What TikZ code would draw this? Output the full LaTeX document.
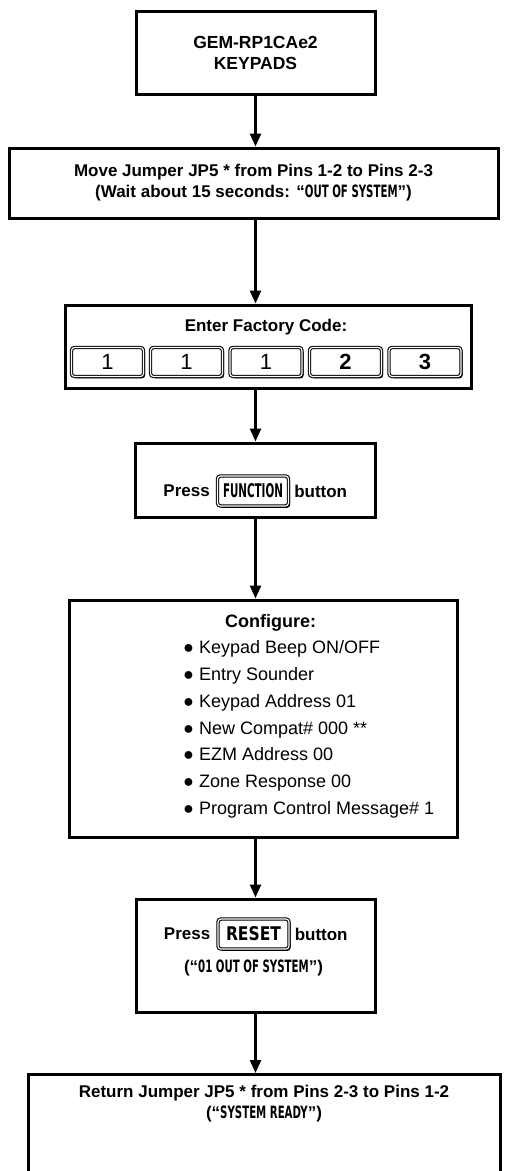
\documentclass[tikz,border=0pt]{standalone}
\usepackage{fontspec}
\setmainfont{Liberation Sans}
\newfontfamily\lcdfont[FakeStretch=0.6]{DejaVu Sans}
\usepackage{graphicx}
\usetikzlibrary{arrows.meta,positioning,shadows}
\newcommand{\lcd}[1]{{\lcdfont\bfseries #1}}
\newcommand{\keylabel}[2]{\resizebox{#1}{14pt}{\lcdfont\bfseries #2}}

\begin{document}
\begin{tikzpicture}[x=1pt, y=-1pt,
  box/.style={draw, line width=3pt, fill=white, inner sep=0pt, align=center, font=\fontsize{17}{21}\selectfont\bfseries},
  txt/.style={inner sep=0pt, align=center, font=\fontsize{17}{21}\selectfont\bfseries},
  keycap/.style={draw, line width=1.1pt, double, double distance=1.2pt, rounded corners=3pt, fill=white, minimum width=72pt, minimum height=29pt, inner sep=0pt, font=\fontsize{22}{22}\selectfont, drop shadow={shadow xshift=1.6pt, shadow yshift=-1.8pt, fill=black, opacity=1}},
  btn/.style={keycap, minimum width=71pt, minimum height=30pt},
  arr/.style={-{Triangle[length=13pt,width=11pt]}, line width=2.5pt}]
  \useasboundingbox (0,0) rectangle (507,1171);
  \clip (0,0) rectangle (507,1171);
  \coordinate (spine) at (255.5,0);
  % boxes
  \node[box, minimum width=239pt, minimum height=83pt, font=\fontsize{17.5}{21}\selectfont\bfseries] (gem) at (255.5,52.5) {GEM-RP1CAe2\\KEYPADS};
  \node[box, minimum width=489pt, minimum height=70pt] (jump) at (253.5,183) {Move Jumper JP5 * from Pins 1-2 to Pins 2-3\\(Wait about 15 seconds: “\lcd{OUT OF SYSTEM}”)};
  \node[box, minimum width=406pt, minimum height=83pt] (code) at (268,346.5) {};
  \node[txt] (codehead) at (266,327) {Enter Factory Code:};
  \foreach \k/\x/\d in {1/107.5/1, 2/186.5/1, 3/266/1, 4/345.5/\textbf{2}, 5/425/\textbf{3}}
    \node[keycap] (key\k) at (\x,362) {\d};
  \node[box, minimum width=240pt, minimum height=74pt] (func) at (255,480) {};
  \node[btn] (fnkey) at (253,491) {\keylabel{60pt}{FUNCTION}};
  \node[txt, left=7pt of fnkey] (fnpress) {Press};
  \node[txt, right=5pt of fnkey] (fnword) {button};
  \node[box, minimum width=388pt, minimum height=237pt] (conf) at (263,718.5) {};
  \node[inner sep=0pt, anchor=north west, align=left, font=\fontsize{18}{26.7}\selectfont] (conflist) at (183,614) {%
    \hspace*{42pt}\textbf{Configure:}\\
    ● Keypad Beep ON/OFF\\
    ● Entry Sounder\\
    ● Keypad Address 01\\
    ● New Compat\# 000 **\\
    ● EZM Address 00\\
    ● Zone Response 00\\
    ● Program Control Message\# 1};
  \node[box, minimum width=239pt, minimum height=113pt] (reset) at (255.5,955.5) {};
  \node[btn] (rskey) at (253.5,934) {\keylabel{55pt}{RESET}};
  \node[txt, left=7pt of rskey] (rspress) {Press};
  \node[txt, right=5pt of rskey] (rsword) {button};
  \node[txt, below=10pt of rskey] (rsmsg) {(“\lcd{01 OUT OF SYSTEM}”)};
  \node[box, anchor=north, minimum width=472pt, inner ysep=11pt, text depth=90pt] (ret) at (264,1073) {Return Jumper JP5 * from Pins 2-3 to Pins 1-2\\(“\lcd{SYSTEM READY}”)};
  % connectors
  \draw[arr] (spine |- gem.south) -- (spine |- jump.north);
  \draw[arr] (spine |- jump.south) -- (spine |- code.north);
  \draw[arr] (spine |- code.south) -- (spine |- func.north);
  \draw[arr] (spine |- func.south) -- (spine |- conf.north);
  \draw[arr] (spine |- conf.south) -- (spine |- reset.north);
  \draw[arr] (spine |- reset.south) -- (spine |- ret.north);
\end{tikzpicture}
\end{document}
